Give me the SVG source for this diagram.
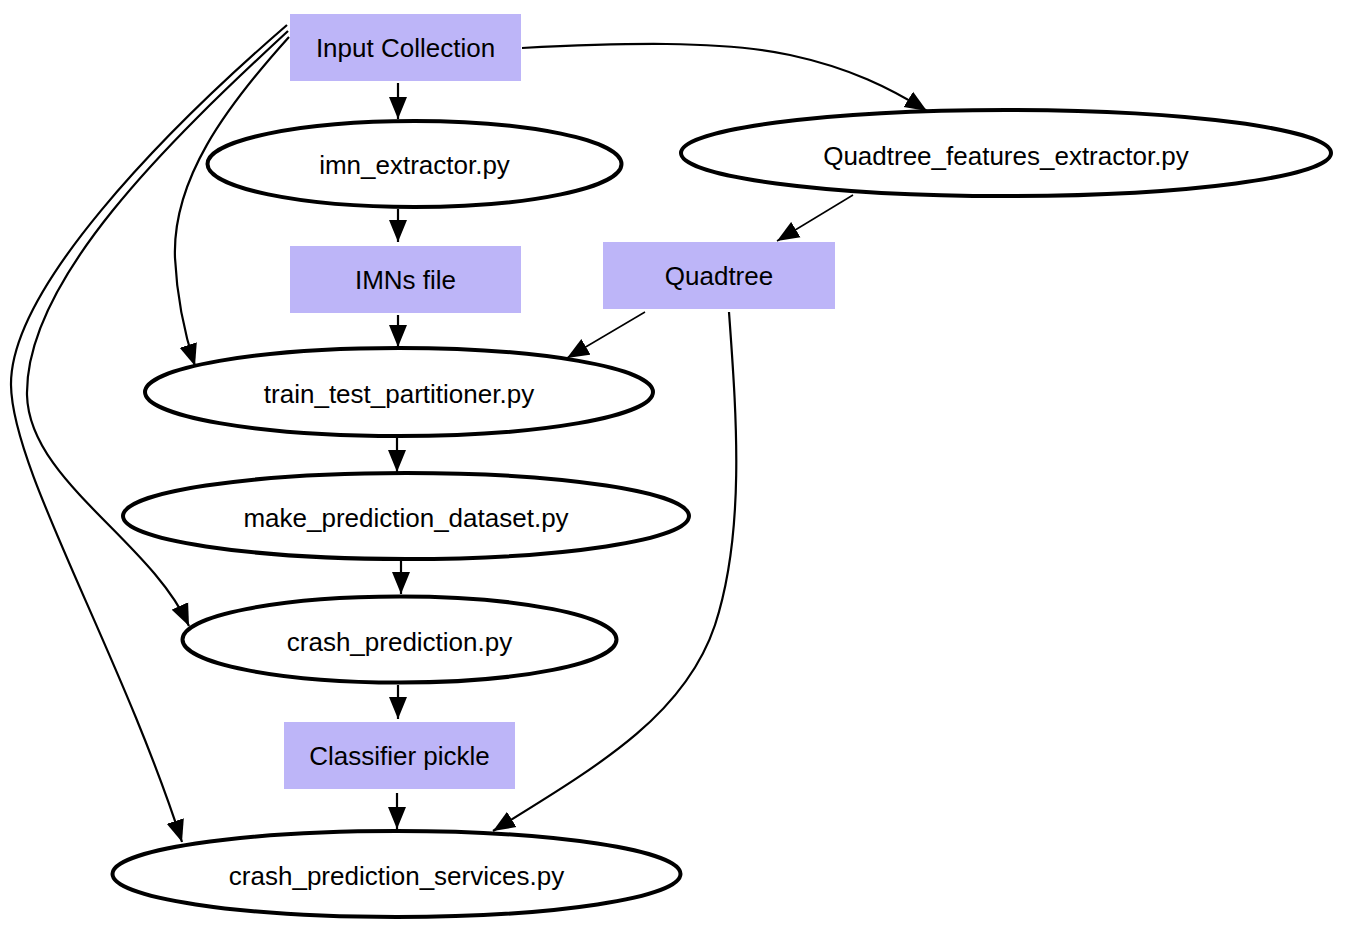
<svg xmlns="http://www.w3.org/2000/svg" width="1350" height="932" viewBox="0 0 1350 932">
<style>
.box{fill:#bdb5f8;stroke:none}
.ell{fill:#fff;stroke:#000;stroke-width:4}
.lbl{font-family:"Liberation Sans",Arial,sans-serif;font-size:26px;fill:#000;text-anchor:middle;dominant-baseline:central}
.e{fill:none;stroke:#000;stroke-width:2.2}
.t{fill:none;stroke:#000;stroke-width:1.5}
</style>
<defs>
<marker id="ah" markerUnits="userSpaceOnUse" markerWidth="23" markerHeight="19" refX="22" refY="9" orient="auto" viewBox="0 0 23 18">
<path d="M0,0 L22,9 L0,18 z" fill="#000"/>
</marker>
</defs>
<rect width="1350" height="932" fill="#fff"/>
<g id="connectors">
<path class="e" d="M398,83 V119" marker-end="url(#ah)"/>
<path class="e" d="M398,209 V242" marker-end="url(#ah)"/>
<path class="e" d="M398,315 V347" marker-end="url(#ah)"/>
<path class="e" d="M397,438 V472" marker-end="url(#ah)"/>
<path class="e" d="M401,561 V594" marker-end="url(#ah)"/>
<path class="e" d="M398,685 V719" marker-end="url(#ah)"/>
<path class="e" d="M397,793 V829" marker-end="url(#ah)"/>
<path class="e" d="M522,48 C620,43 720,40 790,55 C850,68 890,88 927,111" marker-end="url(#ah)"/>
<path class="t" d="M853,195 L777,241" marker-end="url(#ah)"/>
<path class="t" d="M645,312 L567,358" marker-end="url(#ah)"/>
<path class="e" d="M729,312 C736,410 746,530 715,625 C685,715 600,765 493,831" marker-end="url(#ah)"/>
<path class="e" d="M289,37 C225,108 172,180 175,258 C177,300 184,332 195,366" marker-end="url(#ah)"/>
<path class="e" d="M288,31 C170,140 25,280 27,395 C29,480 150,540 189,626" marker-end="url(#ah)"/>
<path class="e" d="M287,25 C160,135 10,290 11,385 C12,470 120,650 182,842" marker-end="url(#ah)"/>
</g>
<g id="input_collection"><rect class="box" x="290" y="14" width="231" height="67"/><text class="lbl" x="405.5" y="48">Input Collection</text></g>
<g id="imn_extractor"><ellipse class="ell" cx="414.5" cy="164" rx="207" ry="43"/><text class="lbl" x="414.5" y="165">imn_extractor.py</text></g>
<g id="quadtree_features_extractor"><ellipse class="ell" cx="1006" cy="153" rx="325" ry="43"/><text class="lbl" x="1006" y="156">Quadtree_features_extractor.py</text></g>
<g id="imns_file"><rect class="box" x="290" y="246" width="231" height="67"/><text class="lbl" x="405.5" y="280">IMNs file</text></g>
<g id="quadtree"><rect class="box" x="603" y="242" width="232" height="67"/><text class="lbl" x="719" y="276">Quadtree</text></g>
<g id="train_test_partitioner"><ellipse class="ell" cx="399" cy="392" rx="254" ry="44"/><text class="lbl" x="399" y="394">train_test_partitioner.py</text></g>
<g id="make_prediction_dataset"><ellipse class="ell" cx="406" cy="516" rx="283" ry="43"/><text class="lbl" x="406" y="518">make_prediction_dataset.py</text></g>
<g id="crash_prediction"><ellipse class="ell" cx="399.5" cy="639.5" rx="217" ry="43"/><text class="lbl" x="399.5" y="642">crash_prediction.py</text></g>
<g id="classifier_pickle"><rect class="box" x="284" y="722" width="231" height="67"/><text class="lbl" x="399.5" y="756">Classifier pickle</text></g>
<g id="crash_prediction_services"><ellipse class="ell" cx="396.5" cy="874" rx="284" ry="43"/><text class="lbl" x="396.5" y="876">crash_prediction_services.py</text></g>
</svg>
